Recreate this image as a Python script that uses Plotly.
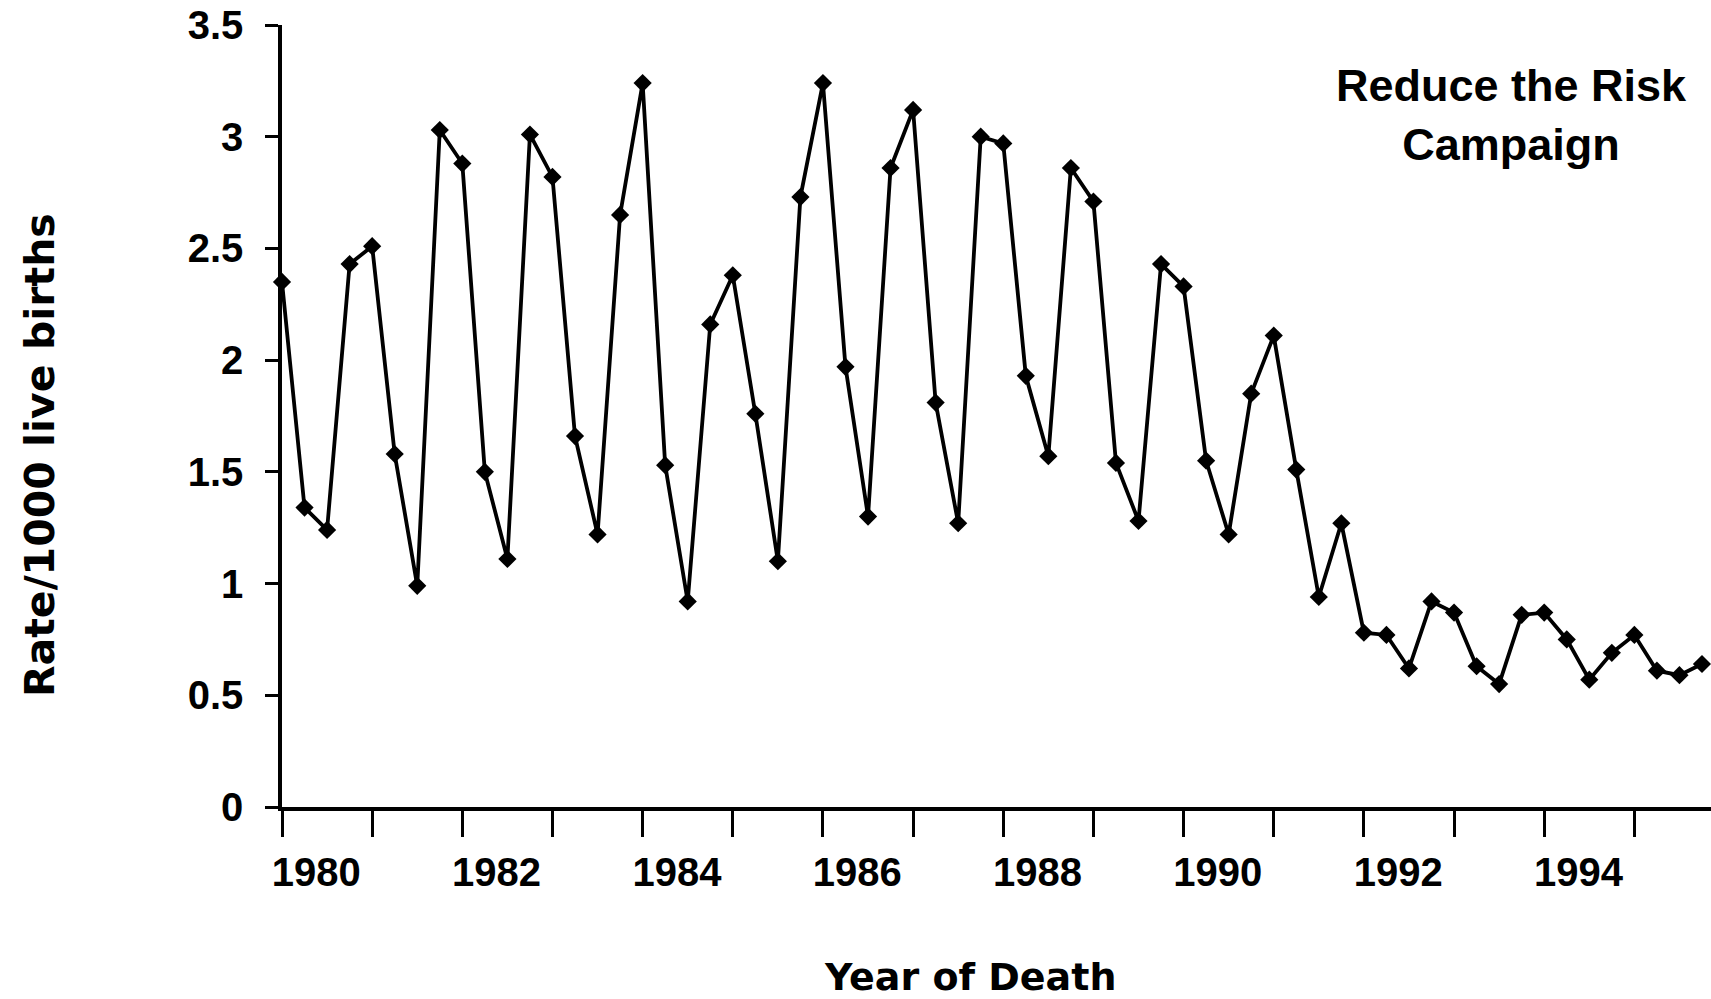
import plotly.graph_objects as go

# ---- data (quarterly rates, 1980 Q1 .. 1995 Q4) ----
years = list(range(1980, 1996))
quarters_per_year = 4
rates = [
    2.35, 1.34, 1.24, 2.43,   # 1980
    2.51, 1.58, 0.99, 3.03,   # 1981
    2.88, 1.50, 1.11, 3.01,   # 1982
    2.82, 1.66, 1.22, 2.65,   # 1983
    3.24, 1.53, 0.92, 2.16,   # 1984
    2.38, 1.76, 1.10, 2.73,   # 1985
    3.24, 1.97, 1.30, 2.86,   # 1986
    3.12, 1.81, 1.27, 3.00,   # 1987
    2.97, 1.93, 1.57, 2.86,   # 1988
    2.71, 1.54, 1.28, 2.43,   # 1989
    2.33, 1.55, 1.22, 1.85,   # 1990
    2.11, 1.51, 0.94, 1.27,   # 1991
    0.78, 0.77, 0.62, 0.92,   # 1992
    0.87, 0.63, 0.55, 0.86,   # 1993
    0.87, 0.75, 0.57, 0.69,   # 1994
    0.77, 0.61, 0.59, 0.64,   # 1995
]
label_years = [1980, 1982, 1984, 1986, 1988, 1990, 1992, 1994]
y_ticks = [0, 0.5, 1, 1.5, 2, 2.5, 3, 3.5]

x_vals = [yr + q / quarters_per_year for yr in years for q in range(quarters_per_year)]

FONT = "Liberation Sans"
WIDE = "DejaVu Sans"

fig = go.Figure()
fig.add_trace(go.Scatter(
    x=x_vals, y=rates, mode="lines+markers",
    line=dict(color="black", width=3.8),
    marker=dict(symbol="diamond", size=14, color="black"),
    cliponaxis=False, showlegend=False,
))

# body margin is removed in the page (post_script), so figure = window
W, H = 1711, 999
PLOT_L, PLOT_R, PLOT_T, PLOT_B = 282, 1711, 25, 807   # page pixels
L, R, T, B = PLOT_L, W - PLOT_R, PLOT_T, H - PLOT_B

def px(xp):
    return (xp - PLOT_L) / (PLOT_R - PLOT_L)

def py(yp):
    return (PLOT_B - yp) / (PLOT_B - PLOT_T)

fig.update_layout(
    width=W, height=H,
    margin=dict(l=L, r=R, t=T, b=B, pad=0, autoexpand=False),
    paper_bgcolor="white", plot_bgcolor="white",
    font=dict(family=FONT, color="black", size=40, weight="bold"),
    xaxis=dict(
        range=[1980, 1995.85], automargin=False,
        tickmode="array",
        tickvals=[y + 0.38 for y in label_years],
        ticktext=[str(y) for y in label_years],
        ticks="", ticklabelstandoff=27,
        tickfont=dict(family=FONT, size=40, weight="bold", color="black"),
        showline=True, linecolor="black", linewidth=4,
        showgrid=False, zeroline=False,
        minor=dict(tickmode="array", tickvals=years, ticks="outside",
                   ticklen=26, tickwidth=3, tickcolor="black", showgrid=False),
    ),
    yaxis=dict(
        range=[0, 3.5], automargin=False,
        tickmode="array", tickvals=y_ticks,
        ticks="outside", ticklen=13, tickwidth=3, tickcolor="black",
        ticklabelstandoff=14, ticklabeloverflow="allow",
        tickfont=dict(family=FONT, size=40, weight="bold", color="black"),
        showline=True, linecolor="black", linewidth=3.5,
        showgrid=False, zeroline=False,
    ),
    annotations=[
        dict(text="Reduce the Risk<br>Campaign", xref="paper", yref="paper",
             x=px(1511), y=py(115), xanchor="center", yanchor="middle",
             showarrow=False, align="center",
             font=dict(family=FONT, size=45, weight="bold", color="black")),
        dict(text="Rate/1000 live births", xref="paper", yref="paper",
             x=px(40), y=py(455), xanchor="center", yanchor="middle",
             textangle=-90, showarrow=False,
             font=dict(family=WIDE, size=41, weight="bold", color="black")),
        dict(text="Year of Death", xref="paper", yref="paper",
             x=px(970), y=py(977), xanchor="center", yanchor="middle",
             showarrow=False,
             font=dict(family=WIDE, size=38, weight="bold", color="black")),
    ],
)

fig.write_html(
    "out.html",
    config={"displayModeBar": False},
    post_script="document.body.style.margin='0';document.body.style.overflow='hidden';",
)
